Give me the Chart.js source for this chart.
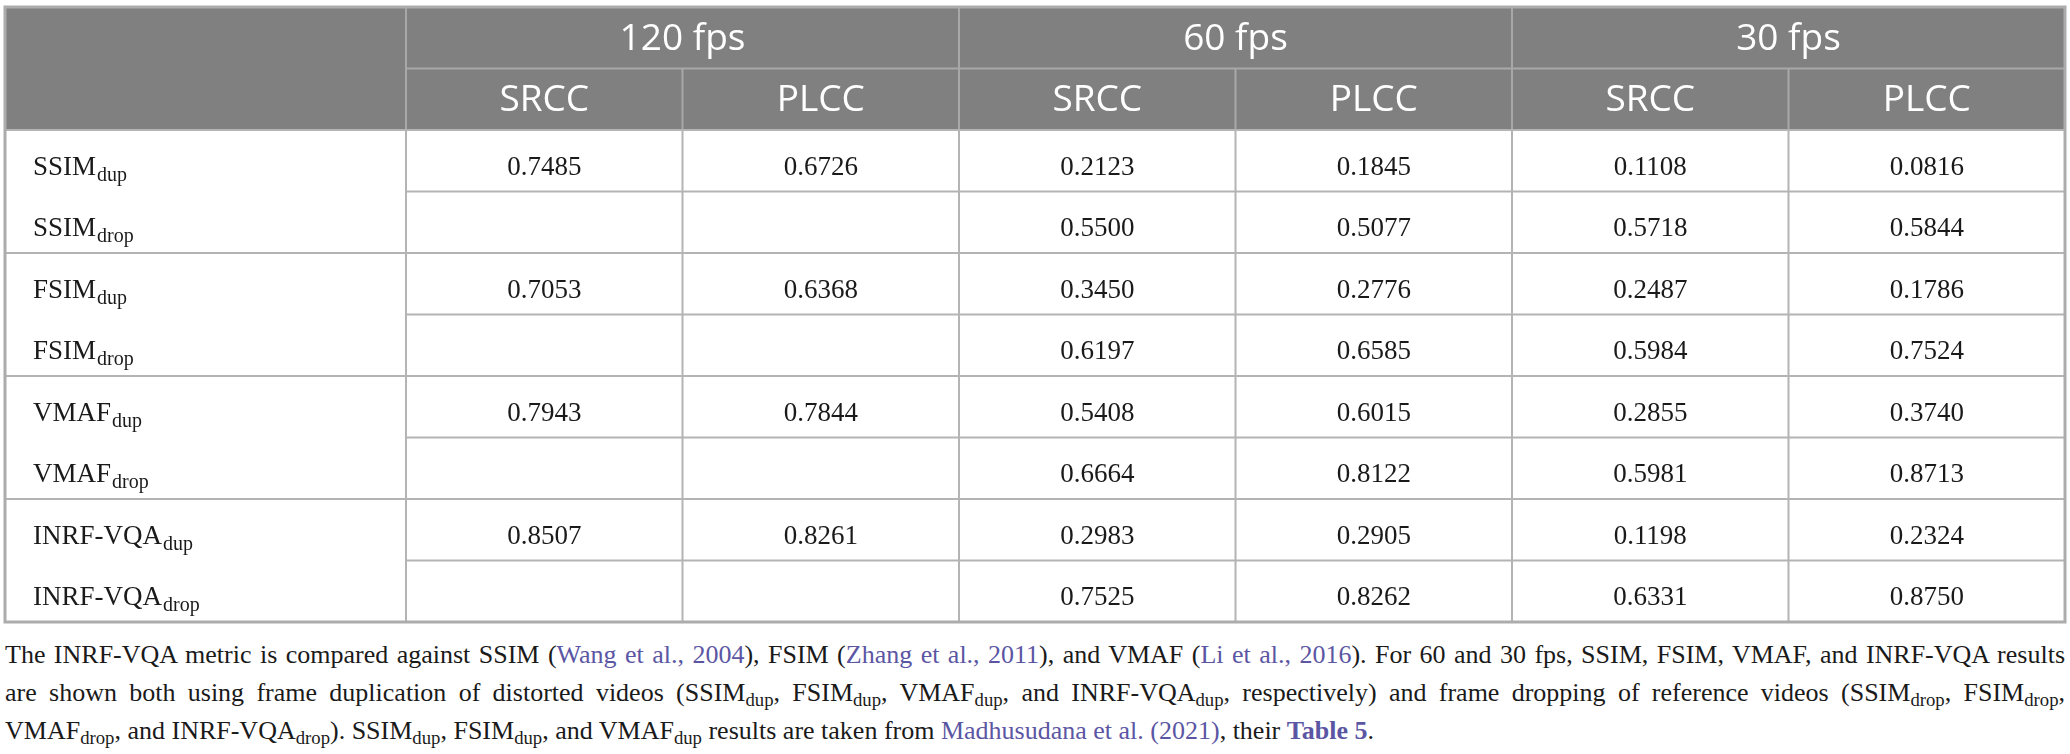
<!DOCTYPE html>
<html>
<head>
<meta charset="utf-8">
<script src="https://cdn.jsdelivr.net/npm/chart.js@4/dist/chart.umd.min.js"></script>
<style>
  body { margin: 0; background: #fff; }
  #wrap { position: absolute; left: 0; top: 0; width: 2070px; height: 630px; }
  #caption {
    position: absolute; left: 5px; top: 636px; width: 2060px;
    font-family: "Liberation Serif", "DejaVu Serif", serif;
    font-size: 26px; line-height: 38px; color: #1a1a1a;
  }
  #caption div { text-align: justify; text-align-last: justify; white-space: nowrap; }
  #caption div.last { text-align-last: left; }
  #caption a { color: #5b56a3; text-decoration: none; }
  #caption b { color: #5b56a3; }
  #caption sub { font-size: 72%; vertical-align: -5px; line-height: 0; }
</style>
</head>
<body>
<div id="wrap"><canvas id="table-chart"></canvas></div>
<div id="caption">
  <div>The INRF-VQA metric is compared against SSIM (<a>Wang et al., 2004</a>), FSIM (<a>Zhang et al., 2011</a>), and VMAF (<a>Li et al., 2016</a>). For 60 and 30 fps, SSIM, FSIM, VMAF, and INRF-VQA results</div>
  <div>are shown both using frame duplication of distorted videos (SSIM<sub>dup</sub>, FSIM<sub>dup</sub>, VMAF<sub>dup</sub>, and INRF-VQA<sub>dup</sub>, respectively) and frame dropping of reference videos (SSIM<sub>drop</sub>, FSIM<sub>drop</sub>,</div>
  <div class="last">VMAF<sub>drop</sub>, and INRF-VQA<sub>drop</sub>). SSIM<sub>dup</sub>, FSIM<sub>dup</sub>, and VMAF<sub>dup</sub> results are taken from <a>Madhusudana et al. (2021)</a>, their <b>Table 5</b>.</div>
</div>
<script>
// Table data
const metrics = ['SSIM', 'FSIM', 'VMAF', 'INRF-VQA'];
const variants = ['dup', 'drop'];
const rates = ['120 fps', '60 fps', '30 fps'];
const measures = ['SRCC', 'PLCC'];

const srcc120 = [0.7485, null, 0.7053, null, 0.7943, null, 0.8507, null];
const plcc120 = [0.6726, null, 0.6368, null, 0.7844, null, 0.8261, null];
const srcc60 = [0.2123, 0.5500, 0.3450, 0.6197, 0.5408, 0.6664, 0.2983, 0.7525];
const plcc60 = [0.1845, 0.5077, 0.2776, 0.6585, 0.6015, 0.8122, 0.2905, 0.8262];
const srcc30 = [0.1108, 0.5718, 0.2487, 0.5984, 0.2855, 0.5981, 0.1198, 0.6331];
const plcc30 = [0.0816, 0.5844, 0.1786, 0.7524, 0.3740, 0.8713, 0.2324, 0.8750];

const columns = [srcc120, plcc120, srcc60, plcc60, srcc30, plcc30];

// row labels: metric + subscript
const rowLabels = [];
metrics.forEach(m => variants.forEach(v => rowLabels.push([m, v])));

// width of label column, in units of one value column
const labelCol = 401 / 276.5;

const serif = '"Liberation Serif", "DejaVu Serif", serif';
const sans = '"Open Sans", "Noto Sans", sans-serif';

const tablePlugin = {
  id: 'tableCells',
  beforeDatasetsDraw(chart) {
    const ctx = chart.ctx;
    const x = chart.scales.x, y = chart.scales.y;
    const px = v => x.getPixelForValue(v);
    const py = v => y.getPixelForValue(v);
    const nRows = rowLabels.length, nCols = columns.length;
    ctx.save();

    // header background
    ctx.fillStyle = '#808080';
    ctx.fillRect(px(-labelCol), py(-2), px(nCols) - px(-labelCol), py(0) - py(-2));

    // header lines
    ctx.strokeStyle = '#a8a8a8';
    ctx.lineWidth = 2;
    ctx.beginPath();
    ctx.moveTo(px(0), py(-1)); ctx.lineTo(px(nCols), py(-1));
    for (let c = 0; c < nCols; c++) {
      const top = c % 2 == 0 ? -2 : -1;
      ctx.moveTo(px(c), py(top)); ctx.lineTo(px(c), py(0));
    }
    ctx.stroke();

    // body lines
    ctx.strokeStyle = '#b4b4b4';
    ctx.beginPath();
    for (let r = 0; r < nRows; r++) {
      const left = r % 2 == 0 ? -labelCol : 0;
      ctx.moveTo(px(left), py(r)); ctx.lineTo(px(nCols), py(r));
    }
    for (let c = 0; c < nCols; c++) {
      ctx.moveTo(px(c), py(0)); ctx.lineTo(px(c), py(nRows));
    }
    ctx.stroke();

    // outer border
    ctx.strokeStyle = '#acacac';
    ctx.lineWidth = 3;
    ctx.strokeRect(px(-labelCol), py(-2), px(nCols) - px(-labelCol), py(nRows) - py(-2));

    // header text
    ctx.fillStyle = '#ffffff';
    ctx.textAlign = 'center';
    ctx.textBaseline = 'alphabetic';
    ctx.font = '37px ' + sans;
    rates.forEach((t, i) => ctx.fillText(t, px(2 * i + 1), py(-1.5) + 12));
    for (let c = 0; c < nCols; c++) {
      ctx.fillText(measures[c % 2], px(c + 0.5), py(-0.5) + 12);
    }

    // row labels
    ctx.fillStyle = '#1a1a1a';
    ctx.textAlign = 'left';
    rowLabels.forEach(([name, sub], r) => {
      const x0 = px(-labelCol) + 28, yb = py(r + 0.5) + 14;
      ctx.font = '27px ' + serif;
      ctx.fillText(name, x0, yb);
      const w = ctx.measureText(name).width;
      ctx.font = '20px ' + serif;
      ctx.fillText(sub, x0 + w + 1, yb + 6);
    });
    ctx.restore();
  },
  afterDatasetsDraw(chart) {
    const ctx = chart.ctx;
    ctx.save();
    ctx.fillStyle = '#1a1a1a';
    ctx.textAlign = 'center';
    ctx.textBaseline = 'alphabetic';
    ctx.font = '27px ' + serif;
    chart.data.datasets.forEach((ds, i) => {
      chart.getDatasetMeta(i).data.forEach((pt, j) => {
        ctx.fillText(ds.data[j].v.toFixed(4), pt.x, pt.y + 14);
      });
    });
    ctx.restore();
  }
};

// one scatter dataset per value column, one point per filled cell
const datasets = columns.map((vals, c) => ({
  label: rates[Math.floor(c / 2)] + ' ' + measures[c % 2],
  data: vals.map((v, r) => v == null ? null : { x: c + 0.5, y: r + 0.5, v: v }).filter(p => p),
  pointRadius: 0,
  showLine: false
}));

new Chart(document.getElementById('table-chart'), {
  type: 'scatter',
  data: { datasets: datasets },
  options: {
    responsive: true,
    maintainAspectRatio: false,
    animation: false,
    layout: { padding: { left: 5, top: 7, right: 5, bottom: 8 } },
    plugins: { legend: { display: false }, tooltip: { enabled: false } },
    scales: {
      x: { type: 'linear', min: -labelCol, max: columns.length, display: false },
      y: { type: 'linear', min: -2, max: rowLabels.length, reverse: true, display: false }
    }
  },
  plugins: [tablePlugin]
});
</script>
</body>
</html>
